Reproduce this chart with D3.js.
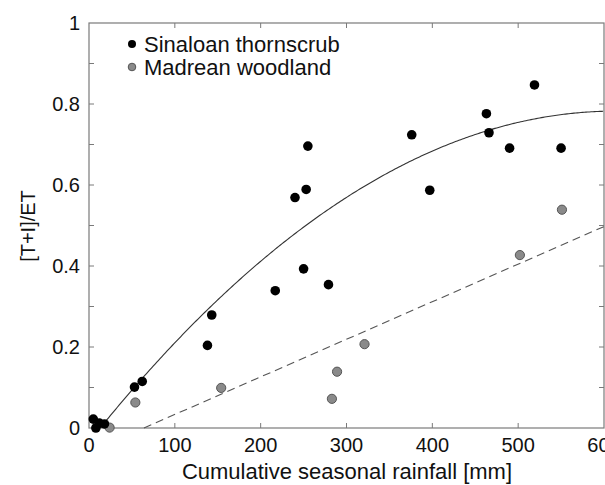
<!DOCTYPE html>
<html><head><meta charset="utf-8">
<script src="https://cdn.jsdelivr.net/npm/d3@7"></script>
<style>body{margin:0;background:#fff}svg{display:block}text{font-family:"Liberation Sans",Arial,sans-serif}</style>
</head><body><svg id="c" width="605" height="485"></svg>
<script>
// Data
const sinaloanX = [5, 8, 12, 18, 53, 62, 138, 143, 217, 240, 253, 255, 250, 279, 376, 397, 463, 466, 490, 519, 550];
const sinaloanY = [0.022, 0.0, 0.012, 0.01, 0.101, 0.115, 0.204, 0.279, 0.339, 0.569, 0.589, 0.696, 0.393, 0.354, 0.724, 0.587, 0.776, 0.729, 0.691, 0.847, 0.691];
const madreanX = [24, 54, 154, 283, 289, 321, 502, 551];
const madreanY = [0.001, 0.063, 0.099, 0.072, 0.139, 0.207, 0.427, 0.539];
// Fitted curves: solid quadratic y = b*(x-x0) + c*(x-x0)^2 ; dashed linear y = m*(x-x1)
const solidFit = [13, 0.0026075, -2.1725e-6];   // x0, b, c
const dashedFit = [64, 0.000928];               // x1, m
const xTicks = [0, 100, 200, 300, 400, 500, 600];
const yTicks = [0, 0.1, 0.2, 0.3, 0.4, 0.5, 0.6, 0.7, 0.8, 0.9, 1];
const yLabels = [0, 0.2, 0.4, 0.6, 0.8, 1];
const legendNames = ["Sinaloan thornscrub", "Madrean woodland"];

const svg = d3.select("#c");
const L = 89, R = 604, T = 23, B = 428;
const x = d3.scaleLinear().domain([0, 600]).range([L, R]);
const y = d3.scaleLinear().domain([0, 1]).range([B, T]);
const axisCol = "#7a7a7a";

// frame
svg.append("rect").attr("x", L).attr("y", T).attr("width", R - L).attr("height", B - T)
  .attr("fill", "none").attr("stroke", axisCol).attr("stroke-width", 1.2);

// ticks (inward)
const tk = 5;
const g = svg.append("g").attr("stroke", axisCol).attr("stroke-width", 1);
xTicks.slice(1, -1).forEach(v => {
  g.append("line").attr("x1", x(v)).attr("x2", x(v)).attr("y1", B).attr("y2", B - tk);
  g.append("line").attr("x1", x(v)).attr("x2", x(v)).attr("y1", T).attr("y2", T + tk);
});
yTicks.slice(1, -1).forEach(v => {
  g.append("line").attr("x1", L).attr("x2", L + tk).attr("y1", y(v)).attr("y2", y(v));
  g.append("line").attr("x1", R).attr("x2", R - tk).attr("y1", y(v)).attr("y2", y(v));
});

// tick labels
svg.append("g").selectAll("text").data(xTicks).join("text")
  .attr("x", d => x(d)).attr("y", 452).attr("text-anchor", "middle")
  .attr("font-size", 20).attr("fill", "#111").text(d => d);
svg.append("g").selectAll("text").data(yLabels).join("text")
  .attr("x", 80).attr("y", d => y(d)).attr("dy", "0.35em").attr("text-anchor", "end")
  .attr("font-size", 20).attr("fill", "#111").text(d => d);

// axis titles
svg.append("text").attr("x", 347).attr("y", 479).attr("text-anchor", "middle")
  .attr("font-size", 22).attr("fill", "#111").text("Cumulative seasonal rainfall [mm]");
svg.append("text").attr("transform", "translate(35,226) rotate(-90)").attr("text-anchor", "middle")
  .attr("font-size", 20).attr("fill", "#111").text("[T+I]/ET");

// fit curves
const solidPts = d3.range(solidFit[0], 600.01, 2).map(v => [v, solidFit[1] * (v - solidFit[0]) + solidFit[2] * (v - solidFit[0]) ** 2]);
svg.append("path").attr("d", d3.line().x(d => x(d[0])).y(d => y(d[1]))(solidPts))
  .attr("fill", "none").attr("stroke", "#333").attr("stroke-width", 1.1);
const dashedPts = [dashedFit[0], 600].map(v => [v, dashedFit[1] * (v - dashedFit[0])]);
svg.append("path").attr("d", d3.line().x(d => x(d[0])).y(d => y(d[1]))(dashedPts))
  .attr("fill", "none").attr("stroke", "#555").attr("stroke-width", 1.1).attr("stroke-dasharray", "8,5");

// points
svg.append("g").selectAll("circle").data(madreanX.map((v, i) => [v, madreanY[i]])).join("circle")
  .attr("cx", d => x(d[0])).attr("cy", d => y(d[1])).attr("r", 4.6)
  .attr("fill", "#8a8a8a").attr("stroke", "#555").attr("stroke-width", 1);
svg.append("g").selectAll("circle").data(sinaloanX.map((v, i) => [v, sinaloanY[i]])).join("circle")
  .attr("cx", d => x(d[0])).attr("cy", d => y(d[1])).attr("r", 4.8).attr("fill", "#000");

// legend
const lg = svg.append("g");
legendNames.forEach((n, i) => {
  const cy = 44 + i * 23;
  lg.append("circle").attr("cx", 132).attr("cy", cy).attr("r", i ? 3.8 : 4)
    .attr("fill", i ? "#8a8a8a" : "#000").attr("stroke", i ? "#555" : "none");
  lg.append("text").attr("x", 144).attr("y", cy).attr("dy", "0.35em")
    .attr("font-size", 22).attr("fill", "#111").text(n);
});
</script></body></html>
